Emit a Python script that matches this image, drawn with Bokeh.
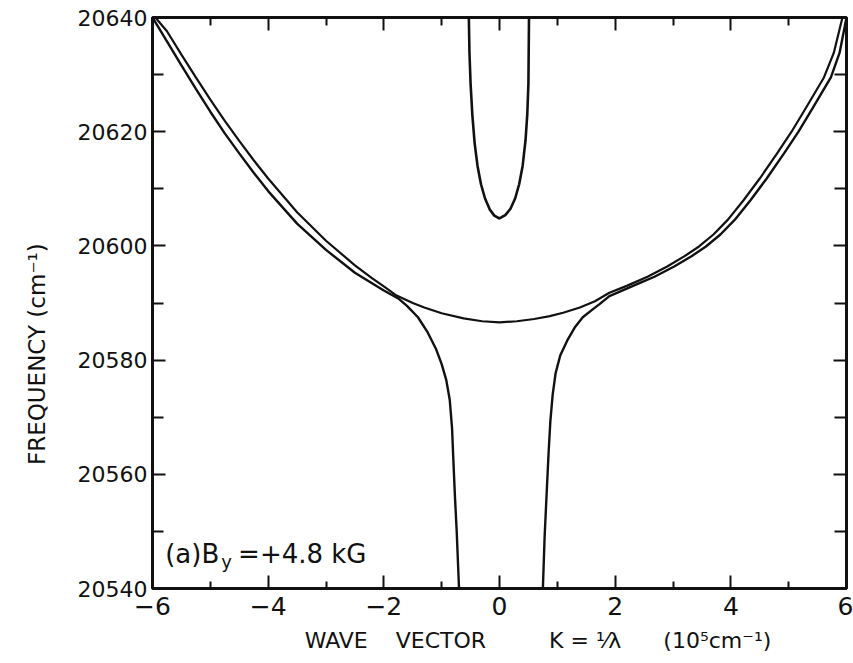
from bokeh.plotting import figure
from bokeh.models import Range1d, LinearAxis, FixedTicker, Label, CustomJSTickFormatter
from bokeh.embed import file_html
from bokeh.resources import INLINE

# ---- values (k in 10^5 cm^-1, frequency in cm^-1) ----
# upper branch (narrow U near k = 0)
upper_k = [-0.53, -0.52, -0.50, -0.47, -0.43, -0.38, -0.32, -0.25, -0.17, -0.09, 0.0,
           0.10, 0.19, 0.27, 0.34, 0.40, 0.45, 0.48, 0.50, 0.51]
upper_f = [20640, 20634, 20628.4, 20623, 20618, 20614, 20610.8, 20608.3, 20606.4, 20605.3, 20604.8,
           20605.4, 20606.5, 20608.3, 20610.8, 20614, 20618.5, 20623, 20628.4, 20640]

# middle branch: inner left line -> flat minimum -> inner right line
mid_k = [-5.95, -5.75, -5.5, -5.25, -5.0, -4.75, -4.5, -4.25, -4.0, -3.5, -3.0, -2.5, -2.2,
         -2.0, -1.78, -1.5, -1.3, -1.0, -0.62, -0.3, 0.0, 0.3, 0.6, 0.87, 1.1, 1.39, 1.65,
         1.90, 2.2, 2.56, 2.9, 3.2, 3.45, 3.7, 3.95, 4.22, 4.5, 4.8, 5.05, 5.3, 5.61, 5.78, 5.93]
mid_f = [20640, 20637.6, 20633.5, 20629.5, 20625.6, 20621.9, 20618.4, 20615, 20611.8, 20605.9,
         20600.9, 20596.6, 20594.3, 20592.9, 20591.3, 20590, 20589.2, 20588.2, 20587.3, 20586.8,
         20586.6, 20586.8, 20587.2, 20587.7, 20588.3, 20589.2, 20590.3, 20591.8, 20593.0, 20594.6,
         20596.4, 20598.2, 20599.9, 20602.0, 20604.6, 20608.0, 20611.8, 20616.2, 20620.0, 20624.2,
         20629.5, 20633.8, 20640]

# lower branch, left side: outer left line -> steep drop
lpl_k = [-6.0, -5.75, -5.5, -5.25, -5.0, -4.75, -4.5, -4.25, -4.0, -3.5, -3.0, -2.5, -2.0,
         -1.75, -1.6, -1.41, -1.25, -1.1, -1.0, -0.92, -0.86, -0.82, -0.80, -0.77, -0.74,
         -0.72, -0.70]
lpl_f = [20640, 20635.8, 20631.6, 20627.5, 20623.5, 20619.7, 20616.2, 20612.8, 20609.6, 20603.9,
         20599.3, 20595.3, 20592.2, 20590.8, 20589.5, 20587.5, 20585, 20582, 20579.3, 20576.5,
         20573, 20568, 20563, 20556, 20550, 20545, 20540]

# lower branch, right side: steep rise -> outer right line
lpr_k = [0.75, 0.78, 0.82, 0.85, 0.88, 0.92, 0.97, 1.05, 1.17, 1.3, 1.44, 1.6, 1.73, 1.90,
         2.2, 2.45, 2.68, 3.02, 3.32, 3.57, 3.82, 4.07, 4.34, 4.62, 4.92, 5.17, 5.42, 5.73,
         5.88, 6.0]
lpr_f = [20540, 20549, 20557.7, 20564, 20569.4, 20574, 20577.7, 20580.8, 20583.4, 20585.7,
         20587.5, 20588.8, 20589.8, 20591.2, 20592.5, 20593.6, 20594.6, 20596.4, 20598.2,
         20599.9, 20602.0, 20604.6, 20608.0, 20611.8, 20616.2, 20620.0, 20624.2, 20629.5,
         20633.8, 20640]

x_ticks = [-6, -4, -2, 0, 2, 4, 6]
x_minor = [-5, -3, -1, 1, 3, 5]
y_ticks = [20540, 20560, 20580, 20600, 20620, 20640]
y_minor = [20550, 20570, 20590, 20610, 20630]

FONT = "DejaVu Sans"
INK = "#111111"
NB = "\u00a0"

p = figure(width=853, height=663, x_range=Range1d(-6, 6), y_range=Range1d(20540, 20640),
           output_backend="svg", toolbar_location=None,
           min_border_left=152, min_border_right=7, min_border_top=17, min_border_bottom=75)
p.xgrid.visible = False
p.ygrid.visible = False
p.outline_line_color = INK
p.outline_line_width = 3
p.background_fill_color = "white"
p.border_fill_color = "white"

xfmt = CustomJSTickFormatter(code="return tick < 0 ? '\\u2212' + Math.abs(tick) : String(tick);")
yfmt = CustomJSTickFormatter(code="return tick.toFixed(0);")


def style_axis(ax, ticks, minor, tick_in, minor_in):
    ax.ticker = FixedTicker(ticks=ticks, minor_ticks=minor)
    ax.axis_line_color = None
    ax.major_tick_in = tick_in
    ax.major_tick_out = 0
    ax.minor_tick_in = minor_in
    ax.minor_tick_out = 0
    ax.major_tick_line_width = 2
    ax.minor_tick_line_width = 2
    ax.major_tick_line_color = INK
    ax.minor_tick_line_color = INK
    ax.major_label_text_font = FONT
    ax.major_label_text_color = INK
    ax.axis_label_text_font = FONT
    ax.axis_label_text_font_style = "normal"
    ax.axis_label_text_color = INK


xa = p.xaxis[0]
style_axis(xa, x_ticks, x_minor, 13, 7)
xa.formatter = xfmt
xa.major_label_text_font_size = "25px"
xa.major_label_standoff = 8
xa.axis_label = (NB * 11 + "WAVE" + NB * 4 + "VECTOR" + NB * 9 + "K" + NB + "=" + NB
                 + "\u00b9\u2044\u03bb" + NB * 6 + "(10\u2075cm\u207b\u00b9)")
xa.axis_label_text_font_size = "22px"
xa.axis_label_standoff = 10

ya = p.yaxis[0]
style_axis(ya, y_ticks, y_minor, 13, 11)
ya.formatter = yfmt
ya.major_label_text_font_size = "22px"
ya.major_label_standoff = 5
ya.axis_label = "FREQUENCY" + NB + "(cm\u207b\u00b9)" + NB * 14
ya.axis_label_text_font_size = "23px"
ya.axis_label_standoff = 25

blank = CustomJSTickFormatter(code="return '';")

top = LinearAxis()
style_axis(top, x_ticks, x_minor, 13, 8)
top.formatter = blank
top.major_label_text_font_size = "1px"
top.major_label_text_color = None
top.major_label_standoff = 0
p.add_layout(top, "above")

right = LinearAxis()
style_axis(right, y_ticks, y_minor, 13, 12)
right.formatter = blank
right.major_label_text_font_size = "1px"
right.major_label_text_color = None
right.major_label_standoff = 0
p.add_layout(right, "right")

p.line(upper_k, upper_f, line_color=INK, line_width=2.6)
p.line(mid_k, mid_f, line_color=INK, line_width=2.2)
p.line(lpl_k, lpl_f, line_color=INK, line_width=2.4)
p.line(lpr_k, lpr_f, line_color=INK, line_width=2.4)

p.add_layout(Label(x=-5.78, y=20546.1, text="(a)B", text_font=FONT, text_font_size="26px",
                   text_color=INK, text_baseline="alphabetic"))
p.add_layout(Label(x=-4.81, y=20544.8, text="y", text_font=FONT, text_font_size="18px",
                   text_color=INK, text_baseline="alphabetic"))
p.add_layout(Label(x=-4.52, y=20546.1, text="=+4.8" + NB + "kG", text_font=FONT,
                   text_font_size="26px", text_color=INK, text_baseline="alphabetic"))

open("out.html", "w").write(file_html(p, INLINE))
